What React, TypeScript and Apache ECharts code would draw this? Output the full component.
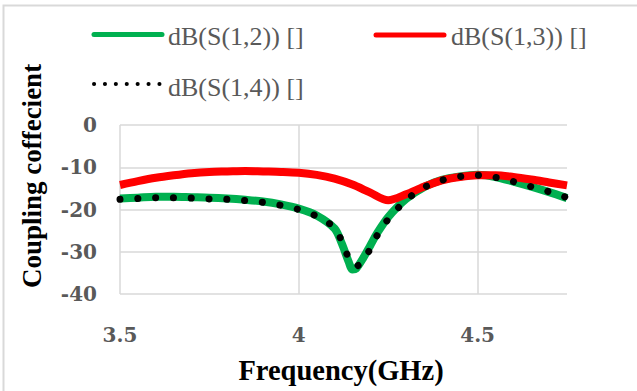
import React, { useEffect, useRef } from "react";
import * as echarts from "echarts";

const freqS12 = [3.5, 3.55, 3.6, 3.65, 3.7, 3.75, 3.8, 3.85, 3.9, 3.95, 4.0, 4.05, 4.1, 4.12, 4.14, 4.15, 4.16, 4.18, 4.2, 4.22, 4.25, 4.3, 4.35, 4.4, 4.45, 4.5, 4.55, 4.6, 4.65, 4.7, 4.75];
const s12 = [-17.4, -17.2, -17.0, -17.0, -17.1, -17.2, -17.4, -17.7, -18.1, -18.8, -19.8, -21.4, -24.5, -28.0, -32.5, -34.2, -34.0, -31.5, -28.5, -25.5, -21.8, -17.5, -14.7, -13.0, -12.2, -11.8, -12.3, -13.4, -14.6, -15.9, -17.3];

const freqS13 = [3.5, 3.55, 3.6, 3.65, 3.7, 3.75, 3.8, 3.85, 3.9, 3.95, 4.0, 4.05, 4.1, 4.15, 4.2, 4.25, 4.3, 4.35, 4.4, 4.45, 4.5, 4.55, 4.6, 4.65, 4.7, 4.75];
const s13 = [-14.2, -13.3, -12.5, -11.9, -11.4, -11.1, -11.0, -10.9, -11.0, -11.1, -11.3, -11.8, -12.7, -14.1, -16.0, -17.8, -16.4, -14.6, -13.1, -12.3, -11.9, -11.9, -12.3, -12.9, -13.6, -14.3];

const freqS14 = [3.5, 3.55, 3.6, 3.65, 3.7, 3.75, 3.8, 3.85, 3.9, 3.95, 4.0, 4.05, 4.1, 4.12, 4.14, 4.16, 4.18, 4.2, 4.22, 4.25, 4.3, 4.35, 4.4, 4.45, 4.5, 4.55, 4.6, 4.65, 4.7, 4.75];
const s14 = [-17.6, -17.4, -17.2, -17.2, -17.3, -17.5, -17.6, -17.9, -18.3, -19.0, -20.0, -21.6, -24.3, -27.5, -31.5, -33.4, -32.3, -29.2, -26.0, -22.3, -17.8, -14.8, -13.1, -12.2, -11.9, -12.4, -13.4, -14.6, -15.8, -17.2];

const xTicks = [3.5, 4, 4.5];
const yTicks = [0, -10, -20, -30, -40];

const names = ["dB(S(1,2)) []", "dB(S(1,3)) []", "dB(S(1,4)) []"];
const colors = ["#00B050", "#FF0000", "#000000"];
const xTitle = "Frequency(GHz)";
const yTitle = "Coupling coffecient";

const zip = (xs: number[], ys: number[]) => xs.map((x, i) => [x, ys[i]]);

export default function App() {
  const ref = useRef<HTMLDivElement>(null);
  useEffect(() => {
    document.body.style.margin = "0";
    const chart = echarts.init(ref.current!, null, { renderer: "svg" });
    const serif = "Liberation Serif";
    const legendText = (x: number, y: number, t: string) => ({
      type: "text",
      x,
      y,
      style: { text: t, fontFamily: serif, fontSize: 26, fill: "#595959", align: "left", verticalAlign: "middle" },
    });
    chart.setOption({
      animation: false,
      backgroundColor: "#fff",
      textStyle: { fontFamily: serif },
      grid: { left: 120, right: 70, top: 125, bottom: 97 },
      xAxis: {
        type: "value",
        min: 3.5,
        max: 4.75,
        interval: 0.5,
        axisLine: { show: false },
        axisTick: { show: false },
        axisLabel: { show: false },
        splitLine: { show: true, showMaxLine: false, lineStyle: { color: "#d9d9d9", width: 1.5 } },
      },
      yAxis: {
        type: "value",
        min: -40,
        max: 0,
        interval: 10,
        axisLine: { show: false },
        axisTick: { show: false },
        axisLabel: { show: false },
        splitLine: { show: true, lineStyle: { color: "#d9d9d9", width: 1.5 } },
      },
      series: [
        { name: names[0], type: "line", data: zip(freqS12, s12), smooth: 0.3, symbol: "none", z: 2, lineStyle: { color: colors[0], width: 8 } },
        { name: names[1], type: "line", data: zip(freqS13, s13), smooth: 0.3, symbol: "none", z: 3, lineStyle: { color: colors[1], width: 8 } },
        { name: names[2], type: "line", data: zip(freqS14, s14), smooth: 0.3, symbol: "none", z: 4, lineStyle: { color: colors[2], width: 7, type: [0.1, 17.7], cap: "round" } },
      ],
    });

    const tickFont = { fontFamily: "DejaVu Serif", fontSize: 20, fontWeight: "bold", fill: "#595959" };
    const yLabels = yTicks.map((v) => {
      const p = chart.convertToPixel({ gridIndex: 0 }, [3.5, v]) as number[];
      return { type: "text", x: p[0] - 23, y: p[1], style: { text: String(v), ...tickFont, align: "right", verticalAlign: "middle" } };
    });
    const xLabels = xTicks.map((v) => {
      const p = chart.convertToPixel({ gridIndex: 0 }, [v, -40]) as number[];
      return { type: "text", x: p[0], y: p[1] + 41, style: { text: String(v), ...tickFont, align: "center", verticalAlign: "middle" } };
    });

    chart.setOption({
      graphic: [
        { type: "rect", shape: { x: 3.5, y: 5.5, width: 640, height: 400 }, style: { fill: "none", stroke: "#d9d9d9", lineWidth: 2 }, z: -10 },
        { type: "text", x: 341, y: 370, style: { text: xTitle, fontFamily: serif, fontSize: 28.5, fontWeight: "bold", fill: "#000", align: "center", verticalAlign: "middle" } },
        { type: "text", x: 32, y: 176, rotation: Math.PI / 2, style: { text: yTitle, fontFamily: serif, fontSize: 27, fontWeight: "bold", fill: "#000", align: "center", verticalAlign: "middle" } },
        { type: "line", shape: { x1: 94, y1: 34.5, x2: 162, y2: 34.5 }, style: { stroke: colors[0], lineWidth: 5, lineCap: "round" } },
        legendText(168, 36, names[0]),
        { type: "line", shape: { x1: 376, y1: 35, x2: 444, y2: 35 }, style: { stroke: colors[1], lineWidth: 5, lineCap: "round" } },
        legendText(451, 36, names[1]),
        { type: "line", shape: { x1: 94, y1: 84, x2: 160, y2: 84 }, style: { stroke: colors[2], lineWidth: 4, lineCap: "round", lineDash: [0.1, 10.8] } },
        legendText(168, 87, names[2]),
        ...yLabels,
        ...xLabels,
      ],
    });
    return () => chart.dispose();
  }, []);
  return <div ref={ref} style={{ width: 637, height: 391 }} />;
}
